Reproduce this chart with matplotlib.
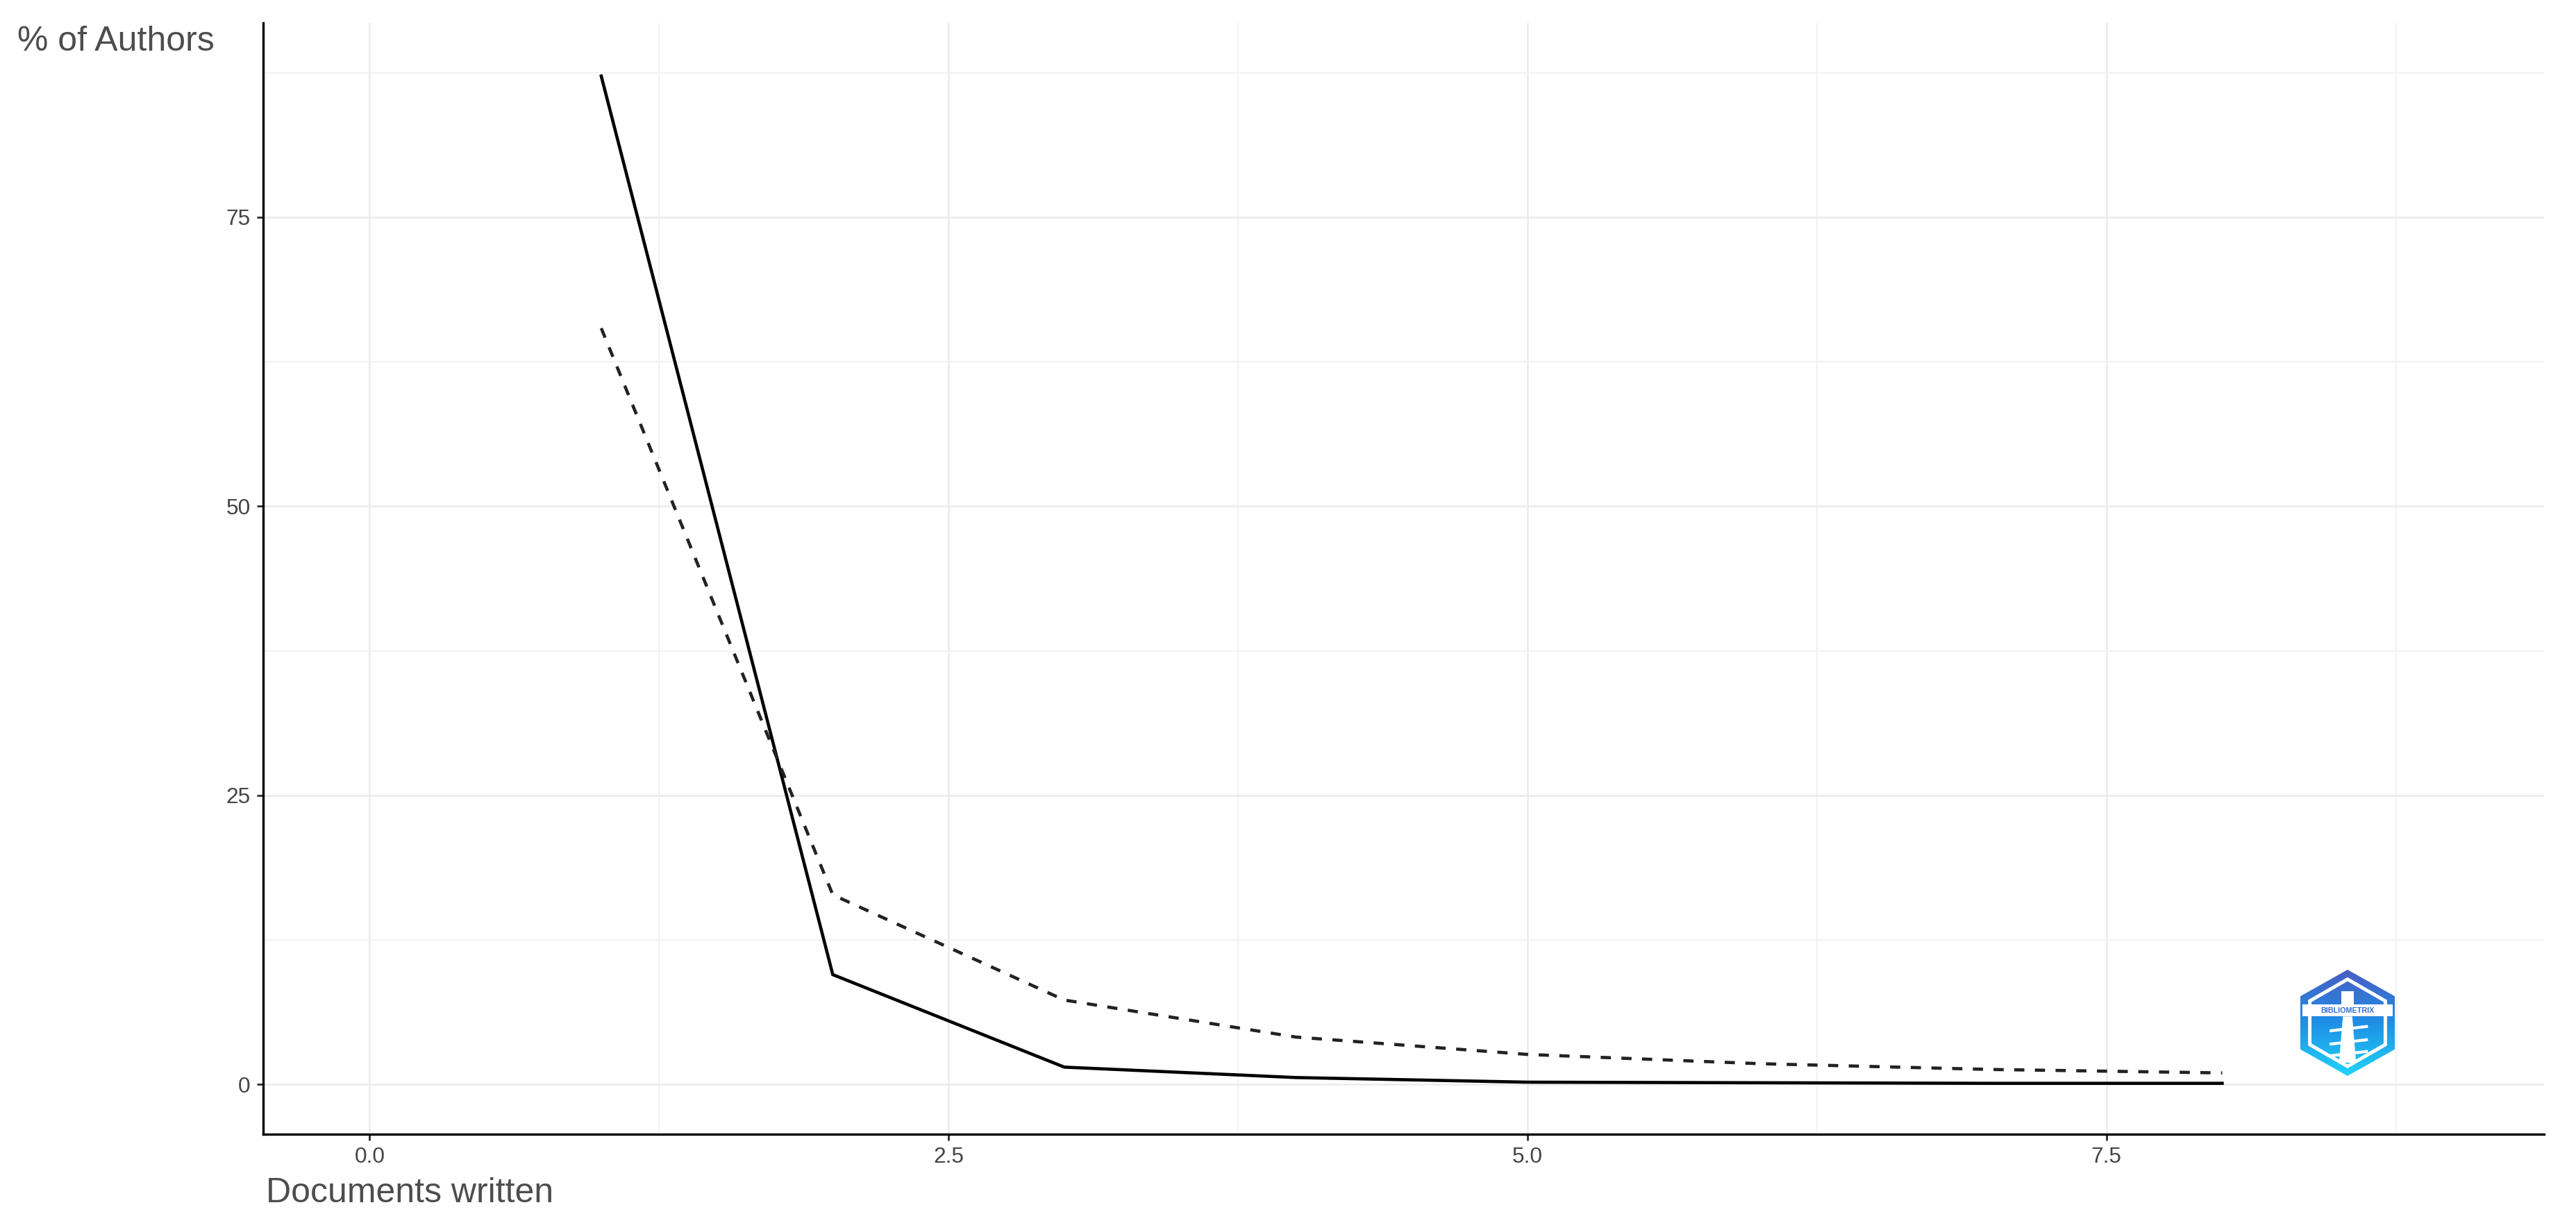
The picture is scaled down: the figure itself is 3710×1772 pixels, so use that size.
import matplotlib.pyplot as plt
import numpy as np
from matplotlib.patches import Polygon, Rectangle
from matplotlib.colors import LinearSegmentedColormap

plt.rcParams['font.family'] = ['Liberation Sans', 'DejaVu Sans']

# Lotka's law: share of authors by number of documents written
docs = [1, 2, 3, 4, 5, 6, 7, 8]
observed = [87.2, 9.5, 1.5, 0.6, 0.2, 0.15, 0.1, 0.1]
theoretical = [65.4, 16.4, 7.3, 4.1, 2.6, 1.8, 1.3, 1.0]

x_ticks = [0.0, 2.5, 5.0, 7.5]
x_tick_labels = ['0.0', '2.5', '5.0', '7.5']
y_ticks = [0, 25, 50, 75]
y_tick_labels = ['0', '25', '50', '75']

W, H = 3711, 1772
fig = plt.figure(figsize=(W / 300, H / 300), dpi=300)
ax = fig.add_axes([379 / W, 1 - 1634 / H, (3664 - 379) / W, (1634 - 33) / H])

ax.plot(docs, observed, color='black', lw=1.1, solid_joinstyle='miter')
ax.plot(docs, theoretical, color='#222222', lw=1.1, dashes=(3.2, 3.3))

ax.set_xlim(-0.46, 9.39)
ax.set_ylim(-4.3, 91.8)

ax.set_xticks(x_ticks)
ax.set_xticklabels(x_tick_labels)
ax.set_yticks(y_ticks)
ax.set_yticklabels(y_tick_labels)
ax.set_xticks([1.25, 3.75, 6.25, 8.75], minor=True)
ax.set_yticks([12.5, 37.5, 62.5, 87.5], minor=True)

ax.grid(True, which='major', color='#ebebeb', lw=0.6)
ax.grid(True, which='minor', color='#f2f2f2', lw=0.5)
ax.set_axisbelow(True)

for s in ['top', 'right']:
    ax.spines[s].set_visible(False)
for s in ['left', 'bottom']:
    ax.spines[s].set_color('black')
    ax.spines[s].set_linewidth(0.8)

ax.tick_params(which='major', length=2.2, width=0.7, color='#333333',
               labelcolor='#444444', labelsize=7.6, pad=2.2)
ax.tick_params(which='minor', length=0)

fig.text(25 / W, 1 - 73 / H, '% of Authors', fontsize=12, color='#4d4d4d',
         ha='left', va='baseline')
fig.text(383 / W, 1 - 1732 / H, 'Documents written', fontsize=12,
         color='#4d4d4d', ha='left', va='baseline')

# bibliometrix logo (rough sketch)
lax = fig.add_axes([3313 / W, 1 - 1550 / H, 136 / W, 153 / H])
lax.set_xlim(-1, 1)
lax.set_ylim(-1, 1)
lax.axis('off')
hx = np.array([0, 1, 1, 0, -1, -1])
hy = np.array([1, 0.5, -0.5, -1, -0.5, 0.5])
cmap = LinearSegmentedColormap.from_list('logo', ['#4b5cc4', '#1e90e6', '#22d3f7'])
grad = np.linspace(0, 1, 200).reshape(-1, 1)
im = lax.imshow(grad, extent=[-1, 1, -1, 1], aspect='auto', cmap=cmap,
                origin='upper')
outer = Polygon(np.c_[hx, hy], closed=True, facecolor='none', edgecolor='none')
lax.add_patch(outer)
im.set_clip_path(outer)
lax.add_patch(Polygon(np.c_[hx * 0.8, hy * 0.82], closed=True, facecolor='none',
                      edgecolor='white', lw=1.2))
lax.add_patch(Rectangle((-0.95, 0.12), 1.9, 0.22, facecolor='white',
                        edgecolor='none'))
lax.text(0, 0.23, 'BIBLIOMETRIX', fontsize=2.6, color='#2f6fd6',
         ha='center', va='center', fontweight='bold')
lax.add_patch(Rectangle((-0.13, 0.34), 0.26, 0.25, facecolor='white',
                        edgecolor='none'))
lax.add_patch(Polygon([[-0.18, -0.75], [0.18, -0.75], [0.1, 0.12], [-0.1, 0.12]],
                      closed=True, facecolor='white', edgecolor='none'))
for yy in [-0.15, -0.4, -0.62]:
    lax.plot([-0.35, 0.4], [yy, yy + 0.08], color='white', lw=1.0)

fig.savefig('out.png', dpi=300)
